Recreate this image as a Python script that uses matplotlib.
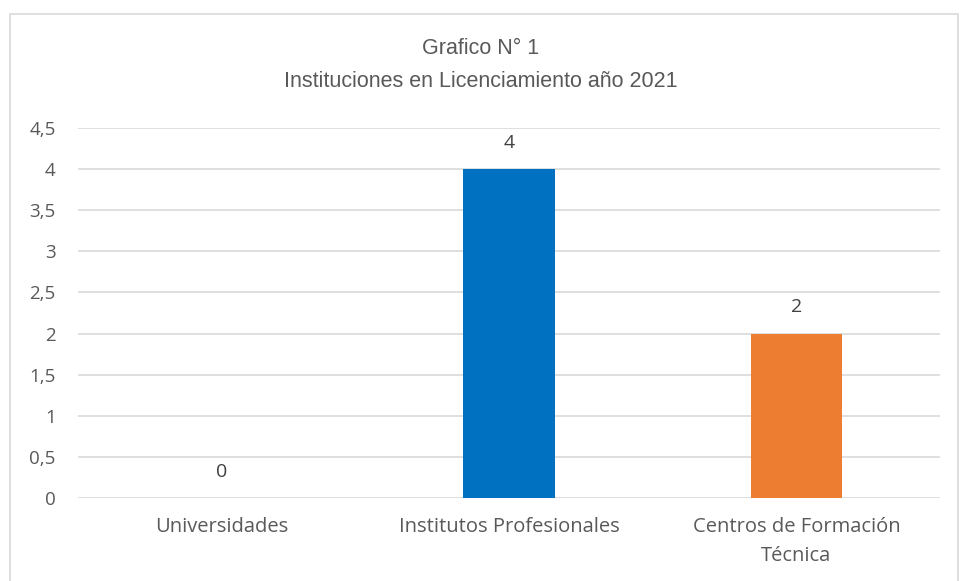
import matplotlib
matplotlib.use("Agg")
import matplotlib.pyplot as plt
from matplotlib.patches import Rectangle
from matplotlib import font_manager

categories = ["Universidades", "Institutos Profesionales", "Centros de Formación\nTécnica"]
values = [0, 4, 2]
colors = ["#0070C0", "#0070C0", "#ED7D31"]
yticks = [0, 0.5, 1, 1.5, 2, 2.5, 3, 3.5, 4, 4.5]
ytick_labels = ["0", "0,5", "1", "1,5", "2", "2,5", "3", "3,5", "4", "4,5"]
title = "Grafico N° 1\nInstituciones en Licenciamiento año 2021"

names = {f.name for f in font_manager.fontManager.ttflist}
title_font = "Liberation Sans Narrow" if "Liberation Sans Narrow" in names else "Liberation Sans"
body_font = "Open Sans"

txt = "#595959"
fig = plt.figure(figsize=(9.61, 5.81), dpi=100)
fig.patches.append(Rectangle((10/961, -0.01), 948/961, 1 - 14/581 + 0.01,
                             transform=fig.transFigure, fill=False,
                             edgecolor="#d9d9d9", linewidth=1.2))
ax = fig.add_axes([78/961, 1 - 498/581, 862/961, (498 - 128)/581])
x = range(len(categories))
bars = ax.bar(x, values, width=0.317, color=colors, zorder=3)
ax.set_xlim(-0.5, 2.5)
ax.set_ylim(0, 4.5)
ax.set_yticks(yticks)
ax.set_yticklabels(ytick_labels, fontsize=13.5, color=txt, family=body_font)
ax.set_xticks(list(x))
ax.set_xticklabels(categories, fontsize=14.5, color=txt, family=body_font, linespacing=1.6)
ax.tick_params(axis="both", length=0)
ax.tick_params(axis="y", pad=16)
ax.tick_params(axis="x", pad=14)
ax.grid(axis="y", color="#d9d9d9", linewidth=1.2, zorder=0)
for s in ax.spines.values():
    s.set_visible(False)
for xi, v in zip(x, values):
    ax.annotate(str(v), (xi, v), xytext=(0, 19), textcoords="offset points",
                ha="center", va="center", fontsize=14, color="#404040", family=body_font)
fig.text(0.5, 1 - 65/581, title, ha="center", va="center", fontsize=15.5,
         color=txt, family=title_font, linespacing=1.75)
fig.savefig("out.png", dpi=100)
